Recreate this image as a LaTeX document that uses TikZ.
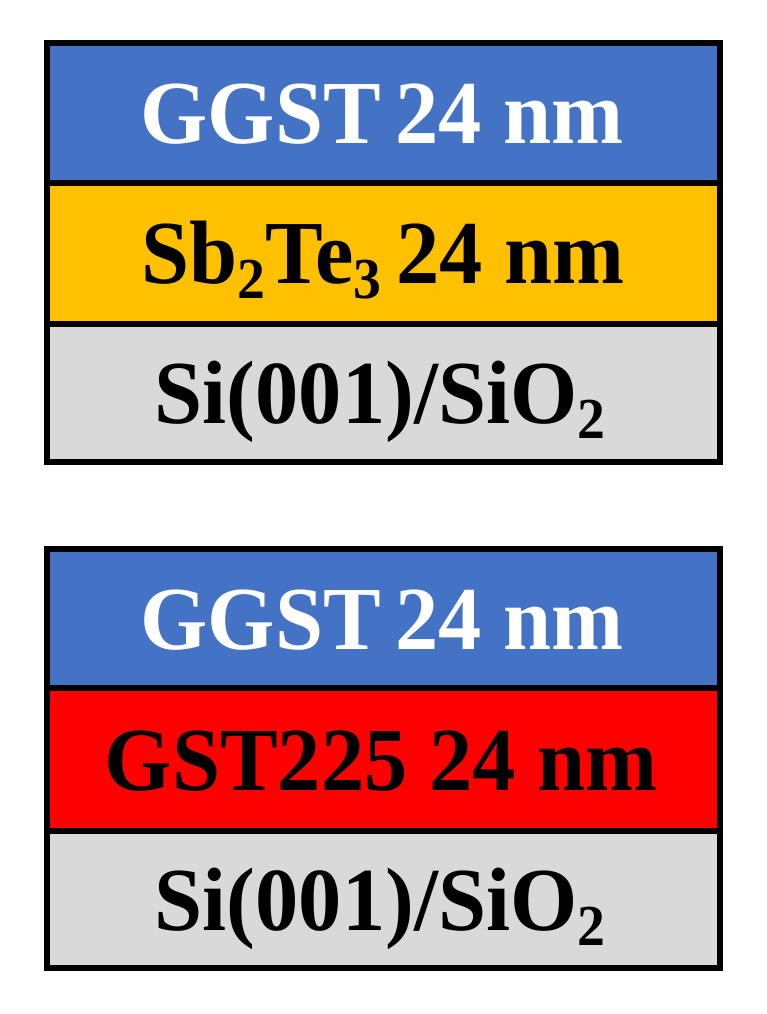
\documentclass[tikz,border=0pt]{standalone}
\usepackage{fontspec}
\setmainfont{Liberation Serif}
\definecolor{ggstblue}{HTML}{4472C4}
\definecolor{sbyellow}{HTML}{FFC000}
\definecolor{gstred}{HTML}{FF0000}
\definecolor{subgrey}{HTML}{D9D9D9}
\newcommand{\lsub}[1]{\raisebox{-15pt}{\fontsize{58}{58}\selectfont #1}}
\tikzset{
  layerlbl/.style={anchor=base, inner sep=0pt, font=\bfseries\fontsize{90}{90}\selectfont, xscale=0.96, transform shape},
  borderline/.style={line width=6pt, draw=black},
}
\begin{document}
\begin{tikzpicture}[x=1pt,y=-1pt]
\useasboundingbox[fill=white] (0,0) rectangle (766,1014);
% ---- top stack ----
\fill[ggstblue] (46.5,43) rectangle (719.5,182.5);
\fill[sbyellow] (46.5,182.5) rectangle (719.5,323.5);
\fill[subgrey] (46.5,323.5) rectangle (719.5,461.5);
\draw[borderline] (46.5,182.5) -- (719.5,182.5);
\draw[borderline] (46.5,323.5) -- (719.5,323.5);
\draw[borderline] (46.5,43) rectangle (719.5,461.5);
\node[layerlbl, text=white] (t1) at (382,143) {GGST\,24 nm};
\node[layerlbl] (t2) at (383,283.5) {Sb\lsub{2}Te\lsub{3}\,24 nm};
\node[layerlbl] (t3) at (380,423) {Si(001)/SiO\lsub{2}};
% ---- bottom stack ----
\fill[ggstblue] (46.5,549) rectangle (719.5,688);
\fill[gstred] (46.5,688) rectangle (719.5,831);
\fill[subgrey] (46.5,831) rectangle (719.5,968);
\draw[borderline] (46.5,688) -- (719.5,688);
\draw[borderline] (46.5,831) -- (719.5,831);
\draw[borderline] (46.5,549) rectangle (719.5,968);
\node[layerlbl, text=white] (b1) at (382,649) {GGST\,24 nm};
\node[layerlbl] (b2) at (381,790) {GST225 24 nm};
\node[layerlbl] (b3) at (380,930) {Si(001)/SiO\lsub{2}};
\end{tikzpicture}
\end{document}
